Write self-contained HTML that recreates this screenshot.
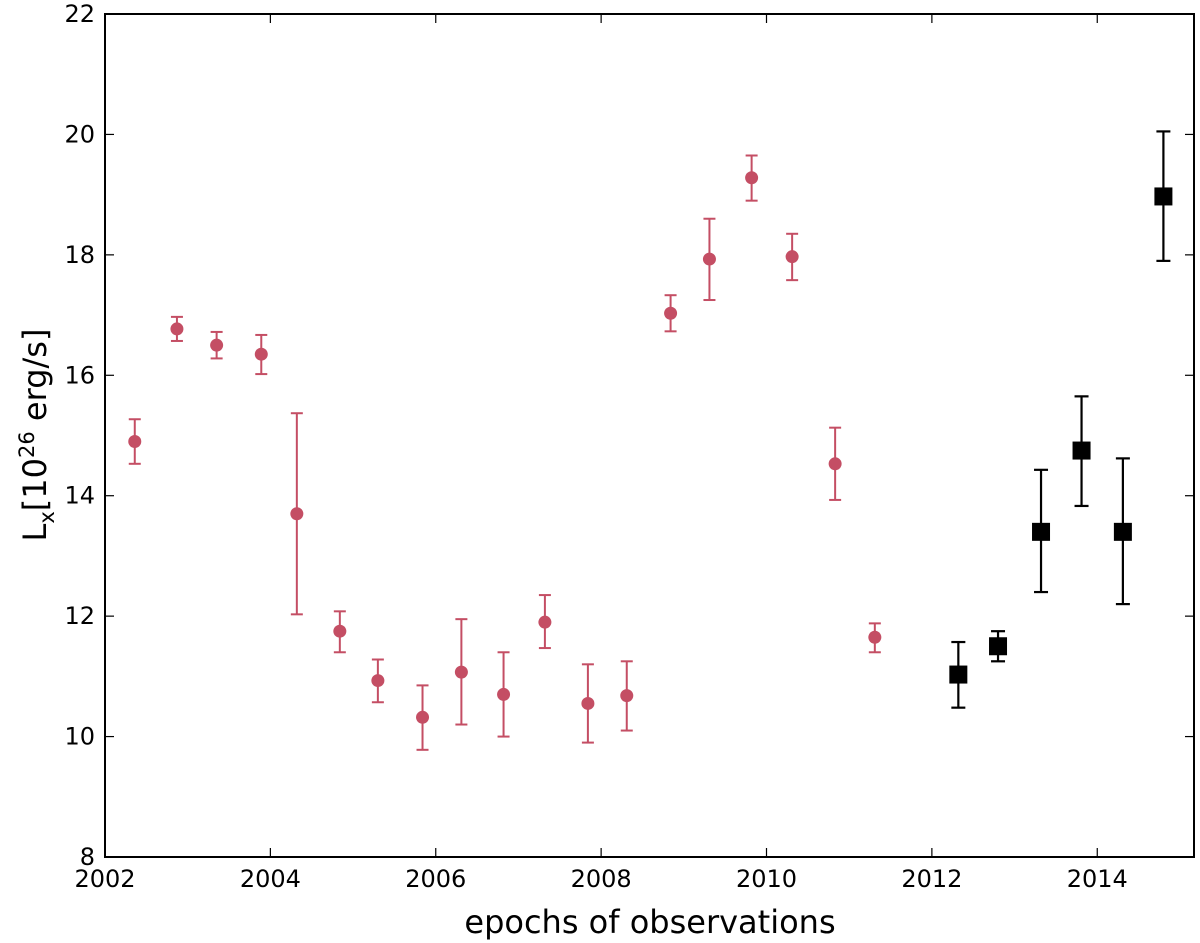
<!DOCTYPE html>
<html><head><meta charset="utf-8"><style>body{margin:0;background:#fff}svg{display:block;font-family:"DejaVu Sans","Liberation Sans",sans-serif}</style></head>
<body>
<svg id="chart" width="1200" height="943" xmlns="http://www.w3.org/2000/svg"></svg>
<script>
const xTicks=[2002,2004,2006,2008,2010,2012,2014];
const yTicks=[8,10,12,14,16,18,20,22];
const redX=[2002.36,2002.87,2003.35,2003.89,2004.32,2004.84,2005.30,2005.84,2006.31,2006.82,2007.32,2007.84,2008.31,2008.84,2009.31,2009.82,2010.31,2010.83,2011.31];
const redY=[14.9,16.77,16.5,16.35,13.7,11.75,10.93,10.32,11.07,10.7,11.9,10.55,10.68,17.03,17.93,19.28,17.97,14.53,11.65];
const redHi=[15.27,16.97,16.72,16.67,15.37,12.08,11.28,10.85,11.95,11.4,12.35,11.2,11.25,17.33,18.6,19.65,18.35,15.13,11.88];
const redLo=[14.53,16.57,16.28,16.02,12.03,11.4,10.57,9.78,10.2,10.0,11.47,9.9,10.1,16.73,17.25,18.9,17.58,13.93,11.4];
const blkX=[2012.32,2012.80,2013.32,2013.81,2014.31,2014.80];
const blkY=[11.03,11.5,13.4,14.75,13.4,18.97];
const blkHi=[11.57,11.75,14.43,15.65,14.62,20.05];
const blkLo=[10.48,11.25,12.4,13.83,12.2,17.9];
const L=105,R=1194,T=14,B=857,X0=2002,X1=2015.17,Y0=8,Y1=22;
const sx=v=>L+(v-X0)/(X1-X0)*(R-L), sy=v=>B-(v-Y0)/(Y1-Y0)*(B-T);
const svg=document.getElementById('chart'),NS='http://www.w3.org/2000/svg';
function mk(tag,attrs,parent){const e=document.createElementNS(NS,tag);for(const k in attrs)e.setAttribute(k,attrs[k]);(parent||svg).appendChild(e);return e;}
xTicks.forEach(t=>{const x=sx(t);
 const l=mk('line',{x1:x,x2:x,y1:B,y2:B-9,stroke:'#000','stroke-width':1.2});
 
 
 const l2=mk('line',{x1:x,x2:x,y1:T,y2:T+9,stroke:'#000','stroke-width':1.2});
 
 
 const tx=mk('text',{x:x,y:B+30,'text-anchor':'middle','font-size':24});tx.textContent=t;
 
 
});
yTicks.forEach(t=>{const y=sy(t);
 const l=mk('line',{x1:L,x2:L+9,y1:y,y2:y,stroke:'#000','stroke-width':1.2});
 
 
 const l2=mk('line',{x1:R,x2:R-9,y1:y,y2:y,stroke:'#000','stroke-width':1.2});
 
 
 const tx=mk('text',{x:L-10,y:y+8,'text-anchor':'end','font-size':24});tx.textContent=t;
 
 
});
const frame=mk('rect',{x:L,y:T,width:R-L,height:B-T,fill:'none',stroke:'#000','stroke-width':2});


function err(x,lo,hi,c,w,cap){const g=mk('g',{stroke:c,'stroke-width':w});
 mk('line',{x1:x,x2:x,y1:sy(lo),y2:sy(hi)},g);
 mk('line',{x1:x-cap,x2:x+cap,y1:sy(lo),y2:sy(lo)},g);
 mk('line',{x1:x-cap,x2:x+cap,y1:sy(hi),y2:sy(hi)},g);return g;}
redX.forEach((v,i)=>{const x=sx(v);
 const g=err(x,redLo[i],redHi[i],'#c44e64',2,6);
 
 
 const c=mk('circle',{cx:x,cy:sy(redY[i]),r:6.5,fill:'#c44e64'});
 
 
});
blkX.forEach((v,i)=>{const x=sx(v);
 const g=err(x,blkLo[i],blkHi[i],'#000',2.2,7);
 
 
 const r=mk('rect',{x:x-9,y:sy(blkY[i])-9,width:18,height:18,fill:'#000'});
 
 
});
const xl=mk('text',{x:650,y:933,'text-anchor':'middle','font-size':32});xl.textContent='epochs of observations';


const yl=mk('text',{x:0,y:0,'text-anchor':'middle','font-size':32,transform:'translate(46,435) rotate(-90)'});
yl.innerHTML='L<tspan font-size="21" dy="8">x</tspan><tspan dy="-8">[10</tspan><tspan font-size="21" dy="-12">26</tspan><tspan dy="12"> erg/s]</tspan>';


</script>
</body></html>
